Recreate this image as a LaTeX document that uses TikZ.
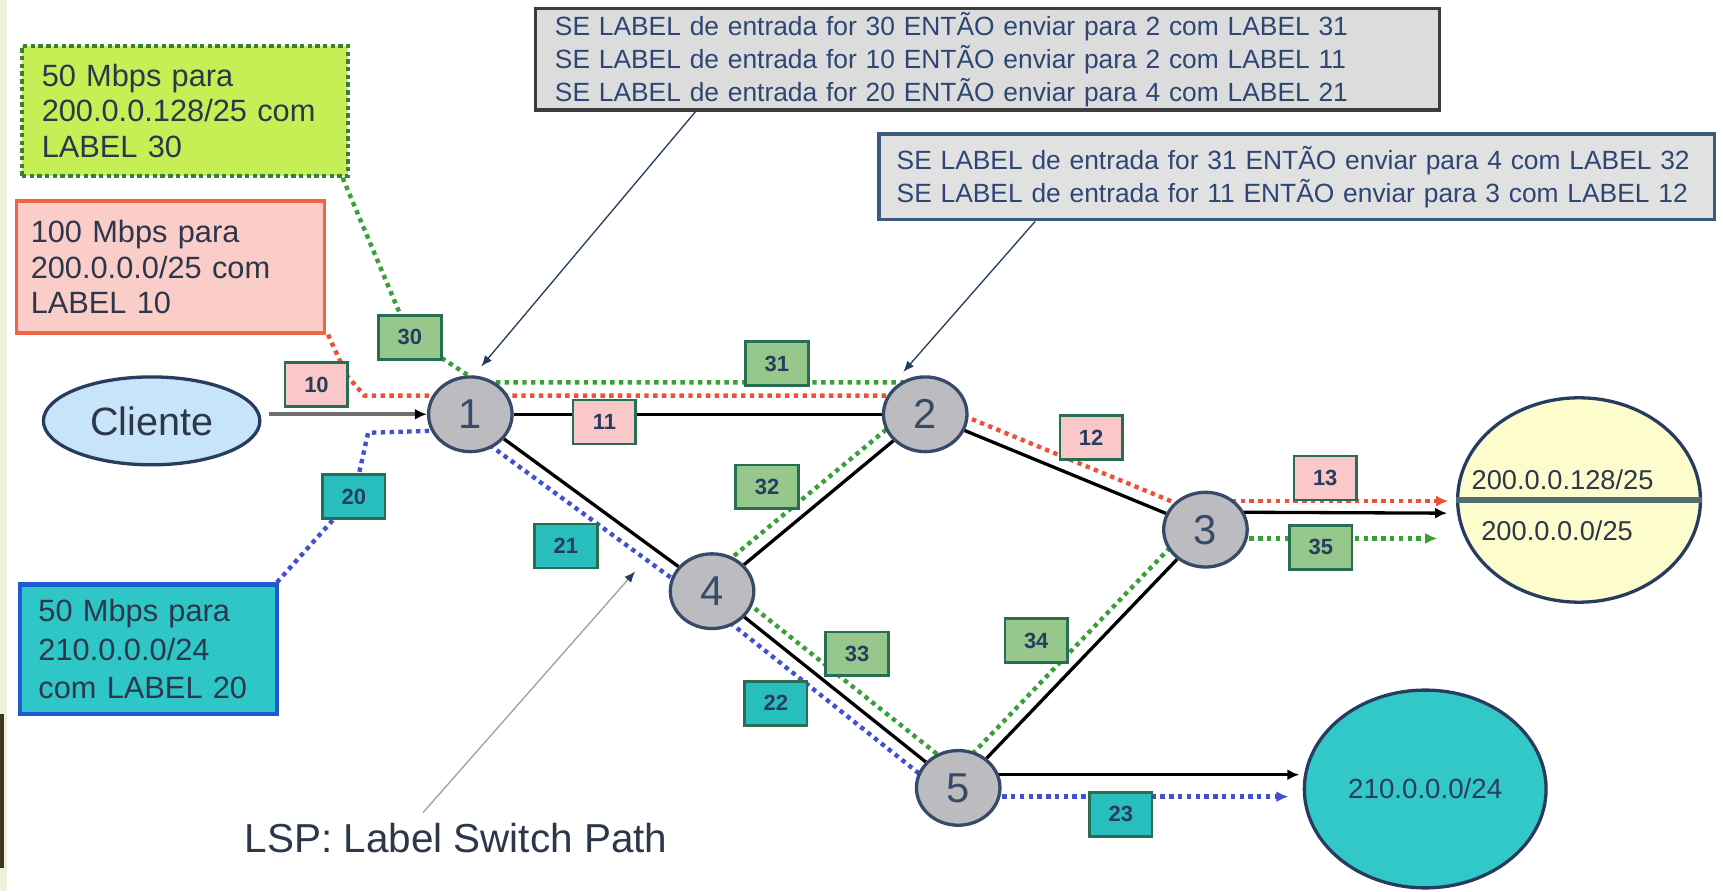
\documentclass[tikz,border=0pt]{standalone}
\usepackage{fontspec}
\setmainfont{Liberation Sans}
\usetikzlibrary{arrows.meta,calc,backgrounds,shapes.geometric}

\definecolor{txt}{RGB}{45,55,75}
\definecolor{rulefg}{RGB}{45,70,115}
\definecolor{limefill}{RGB}{198,238,85}
\definecolor{limeedge}{RGB}{60,125,60}
\definecolor{pinkfill}{RGB}{251,205,200}
\definecolor{pinkedge}{RGB}{240,100,70}
\definecolor{tealfill}{RGB}{46,198,198}
\definecolor{tealedge}{RGB}{30,90,210}
\definecolor{tagedge}{RGB}{40,110,80}
\definecolor{taggreen}{RGB}{150,200,140}
\definecolor{tagpink}{RGB}{250,200,200}
\definecolor{tagteal}{RGB}{40,190,190}
\definecolor{routerfill}{RGB}{188,188,192}
\definecolor{routeredge}{RGB}{55,75,105}
\definecolor{lspgreen}{RGB}{55,160,55}
\definecolor{lspred}{RGB}{240,80,55}
\definecolor{lspblue}{RGB}{65,80,210}
\definecolor{clientfill}{RGB}{200,228,248}
\definecolor{netyellow}{RGB}{253,252,205}
\definecolor{netteal}{RGB}{50,200,200}
\definecolor{navy}{RGB}{40,60,95}
\definecolor{tablefill}{RGB}{220,220,220}
\definecolor{tableedge}{RGB}{60,60,60}
\definecolor{tabletwoedge}{RGB}{60,90,125}
\definecolor{divider}{RGB}{80,110,115}
\definecolor{feedline}{RGB}{110,110,110}
\definecolor{pointer}{RGB}{160,160,160}
\definecolor{edgecream}{RGB}{240,240,220}
\definecolor{edgedark}{RGB}{60,55,35}

\tikzset{
  router/.style={ellipse, draw=routeredge, line width=1.5pt, fill=routerfill,
    minimum width=38pt, minimum height=34pt, inner sep=0pt,
    font=\fontsize{19}{19}\selectfont, text=routeredge},
  tag/.style={rectangle, draw=tagedge, line width=1.2pt, minimum width=28.5pt,
    minimum height=20pt, inner sep=0pt,
    font=\fontsize{10}{10}\selectfont\bfseries, text=navy},
  taggrn/.style={tag, fill=taggreen},
  tagpnk/.style={tag, fill=tagpink},
  tagtea/.style={tag, fill=tagteal},
  note/.style={rectangle, align=left, font=\fontsize{14}{16}\selectfont, text=txt},
  rulebox/.style={rectangle, align=left, font=\fontsize{12}{15}\selectfont,
    text=rulefg, fill=tablefill, line width=1.5pt, inner ysep=0pt},
  edge/.style={draw=black, line width=1.5pt},
  lsp/.style={line width=2pt, dash pattern=on 2pt off 2pt},
  tipa/.style={-{Latex[length=5.5pt,width=5pt]}},
  callout/.style={draw=navy, line width=0.6pt, -{Latex[length=5pt,width=4pt]}},
}

\begin{document}
\begin{tikzpicture}[x=0.5pt,y=-0.5pt]
\useasboundingbox (0,0) rectangle (1568,811);

% forwarding tables
\node[rulebox, draw=tableedge, minimum width=411.5pt, minimum height=46pt,
      text width=393.5pt, inner xsep=9pt] (ctrl1) at (898.5,54)
  {SE LABEL de entrada for 30 ENTÃO enviar para 2 com LABEL 31\\
   SE LABEL de entrada for 10 ENTÃO enviar para 2 com LABEL 11\\
   SE LABEL de entrada for 20 ENTÃO enviar para 4 com LABEL 21};
\node[rulebox, draw=tabletwoedge, fill=tablefill!85!white, minimum width=380pt,
      minimum height=39pt, text width=372pt, inner xsep=4pt] (ctrl2) at (1180,161)
  {\hspace*{4pt}SE LABEL de entrada for 31 ENTÃO enviar para 4 com LABEL 32\\
   \hspace*{4pt}SE LABEL de entrada for 11 ENTÃO enviar para 3 com LABEL 12};

% ingress flow descriptions
\node[note, draw=limeedge, line width=1.8pt, dash pattern=on 2pt off 1.5pt,
      fill=limefill, minimum width=148.5pt, minimum height=59pt,
      text width=130.5pt, inner xsep=9pt] (gnote) at (168.5,101)
  {50 Mbps para\\200.0.0.128/25 com\\LABEL 30};
\node[note, draw=pinkedge, line width=1.5pt, fill=pinkfill, minimum width=140pt,
      minimum height=60pt, text width=127pt, inner xsep=6.5pt] (pnote) at (155,243)
  {100 Mbps para\\200.0.0.0/25 com\\LABEL 10};
\node[note, draw=tealedge, line width=2pt, fill=tealfill, minimum width=117pt,
      minimum height=59pt, text width=100pt, inner xsep=8.5pt,
      font=\fontsize{14}{17.5}\selectfont] (tnote) at (135,591)
  {50 Mbps para\\210.0.0.0/24\\com LABEL 20};

% client and routers
\node[ellipse, draw=navy, line width=1.5pt, fill=clientfill, minimum width=98.5pt,
      minimum height=40pt, font=\fontsize{18}{18}\selectfont, text=txt] (cli) at (138,383) {Cliente};
\node[router] (n1) at (428,377) {1};
\node[router] (n2) at (842,377) {2};
\node[router] (n3) at (1097,482) {3};
\node[router] (n4) at (648,538) {4};
\node[router] (n5) at (872,717) {5};

% destination networks
\node[ellipse, draw=navy, line width=1.5pt, fill=netyellow, minimum width=110.5pt,
      minimum height=93pt] (dst1) at (1437,455) {};
\draw[line width=2.5pt, draw=divider] (dst1.west) -- (dst1.east);
\node[font=\fontsize{12.4}{12.4}\selectfont, text=txt] (dst1a) at (1422,437) {200.0.0.128/25};
\node[font=\fontsize{12.4}{12.4}\selectfont, text=txt] (dst1b) at (1417,483) {200.0.0.0/25};
\node[ellipse, draw=navy, line width=1.5pt, fill=netteal, minimum width=110pt,
      minimum height=90pt, font=\fontsize{12.6}{12.6}\selectfont, text=navy] (dst2) at (1297,718) {210.0.0.0/24};

% labels carried on each hop
\node[tagpnk] (l10) at (288,350) {10};
\node[taggrn] (l30) at (373,307) {30};
\node[taggrn] (l31) at (707,331) {31};
\node[tagpnk] (l11) at (550,384) {11};
\node[tagtea] (l20) at (322,452) {20};
\node[tagtea] (l21) at (515,497) {21};
\node[taggrn] (l32) at (698,443) {32};
\node[tagpnk] (l12) at (993,398) {12};
\node[tagpnk] (l13) at (1206,435) {13};
\node[taggrn] (l35) at (1202,498) {35};
\node[taggrn] (l33) at (780,595) {33};
\node[tagtea] (l22) at (706,640) {22};
\node[taggrn] (l34) at (943,583) {34};
\node[tagtea] (l23) at (1020,741) {23};

\node[font=\fontsize{18.4}{18.4}\selectfont, text=txt] (lsptxt) at (415,763) {LSP: Label Switch Path};
\coordinate (lsptip) at (578,520);

\begin{scope}[on background layer]
  % page
  \fill[white] (0,0) rectangle (1568,811);
  \fill[edgecream] (0,0) rectangle (6,811);
  \fill[edgedark] (0,650) rectangle (4,790);

  % physical links
  \draw[edge] (n1) -- (n2);
  \draw[edge] (n1) -- (n4);
  \draw[edge] (n2) -- (n4);
  \draw[edge] (n2) -- (n3);
  \draw[edge] (n4) -- (n5);
  \draw[edge] (n5) -- (n3);
  \draw[line width=2pt, draw=feedline, -{Latex[length=5.5pt,width=5pt,color=black]}]
    ($(cli.east |- n1)+(7,0)$) -- (n1.west);
  \draw[edge, tipa] ($(n3)+(0,-16)$) -- ($(dst1.west)+(-8,12)$);
  \draw[edge, tipa] ($(n5)+(0,-12)$) -- ($(dst2.west)+(-3,-13)$);

  % LSP for label 30 (green)
  \draw[lsp, lspgreen] ($(gnote.south east)+(-7,0)$) -- (l30.center)
    -- ($(n1)+(8,-29)$) -- ($(n2)+(0,-29)$) -- ($(n2)+(-8,-9)$)
    -- ($(n4)+(-8,-9)$) -- ($(n4)+(8,-9)$) -- ($(n5)+(8,-9)$)
    -- ($(n5)+(-9,-8)$) -- ($(n3)+(-9,-8)$) -- ($(n3)+(0,8)$);
  \draw[lsp, lspgreen, tipa] ($(n3)+(0,8)$) -- ($(dst1.west)+(-17,35)$);

  % LSP for label 10 (red)
  \draw[lsp, lspred] ($(pnote.south east)+(2,0)$) -- ($(l10.east)+(-2,-8)$)
    -- ($(l10.east)+(14,10)$) -- ($(n2)+(0,-17)$) -- ($(n2)+(5,-11)$)
    -- ($(n3)+(5,-11)$) -- ($(n3)+(0,-26)$);
  \draw[lsp, lspred, tipa] ($(n3)+(0,-26)$) -- ($(dst1.west)+(-7,1)$);

  % LSP for label 20 (blue)
  \draw[lsp, lspblue] ($(tnote.north east)+(-2,0)$) -- (l20.center)
    -- ($(l20.north)+(13,-37)$) -- ($(n1)+(0,14)$) -- ($(n1)+(-7,10)$)
    -- ($(n4)+(-7,10)$) -- ($(n5)+(-8,9)$) -- ($(n5)+(0,8)$);
  \draw[lsp, lspblue, tipa] ($(n5)+(0,8)$) -- ($(dst2.west)+(-13,7)$);
\end{scope}

% pointers from the tables and the caption
\draw[callout] ($(ctrl1.south)+(-265.5,0)$) -- ($(n1.north)+(10,-8)$);
\draw[callout] ($(ctrl2.south)+(-238,0)$) -- ($(n2.north)+(-20,-3)$);
\draw[line width=0.6pt, draw=pointer, -{Latex[length=5pt,width=4pt,color=navy]}]
  ($(lsptxt.north)+(-30,-3)$) -- (lsptip);
\end{tikzpicture}
\end{document}
